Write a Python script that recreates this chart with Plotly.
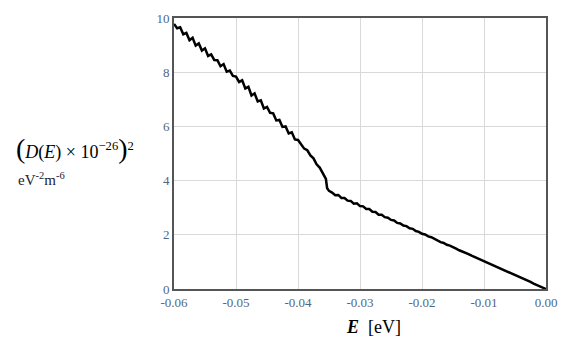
import plotly.graph_objects as go

# Energy values E [eV]
energy = [
    -0.0600, -0.0595, -0.0590, -0.0585, -0.0580, -0.0575, -0.0570, -0.0565, -0.0560, -0.0555,
    -0.0550, -0.0545, -0.0540, -0.0535, -0.0530, -0.0525, -0.0520, -0.0515, -0.0510, -0.0505,
    -0.0500, -0.0495, -0.0490, -0.0485, -0.0480, -0.0475, -0.0470, -0.0465, -0.0460, -0.0455,
    -0.0450, -0.0445, -0.0440, -0.0435, -0.0430, -0.0425, -0.0420, -0.0415, -0.0410, -0.0405,
    -0.0400, -0.0395, -0.0390, -0.0385, -0.0380, -0.0375, -0.0370, -0.0365, -0.0360, -0.0355,
    -0.0353, -0.0350, -0.0345, -0.0340, -0.0335, -0.0330, -0.0325, -0.0320, -0.0315, -0.0310,
    -0.0305, -0.0300, -0.0295, -0.0290, -0.0285, -0.0280, -0.0275, -0.0270, -0.0265, -0.0260,
    -0.0255, -0.0250, -0.0245, -0.0240, -0.0235, -0.0230, -0.0225, -0.0220, -0.0215, -0.0210,
    -0.0205, -0.0200, -0.0195, -0.0190, -0.0185, -0.0180, -0.0175, -0.0170, -0.0165, -0.0160,
    -0.0155, -0.0150, -0.0145, -0.0140, -0.0135, -0.0130, -0.0125, -0.0120, -0.0115, -0.0110,
    -0.0105, -0.0100, -0.0095, -0.0090, -0.0085, -0.0080, -0.0075, -0.0070, -0.0065, -0.0060,
    -0.0055, -0.0050, -0.0045, -0.0040, -0.0035, -0.0030, -0.0025, -0.0020, -0.0015, -0.0010,
    -0.0005, 0.0000,
]

# (D(E) x 1e-26)^2 values
d_squared = [
    9.78, 9.62, 9.66, 9.40, 9.45, 9.18, 9.27, 8.98, 9.06, 8.80,
    8.88, 8.60, 8.66, 8.45, 8.44, 8.22, 8.30, 8.02, 8.06, 7.86,
    7.84, 7.64, 7.70, 7.40, 7.46, 7.14, 7.22, 6.92, 6.96, 6.66,
    6.72, 6.50, 6.48, 6.22, 6.24, 5.98, 6.00, 5.74, 5.78, 5.52,
    5.50, 5.36, 5.18, 5.12, 4.93, 4.82, 4.60, 4.48, 4.28, 4.06,
    3.72, 3.62, 3.56, 3.46, 3.47, 3.36, 3.36, 3.26, 3.25, 3.15,
    3.16, 3.06, 3.05, 2.95, 2.95, 2.85, 2.84, 2.74, 2.74, 2.65,
    2.63, 2.55, 2.53, 2.44, 2.42, 2.34, 2.32, 2.24, 2.22, 2.14,
    2.11, 2.04, 2.01, 1.94, 1.91, 1.84, 1.80, 1.73, 1.70, 1.63,
    1.60, 1.53, 1.49, 1.43, 1.39, 1.33, 1.29, 1.23, 1.18, 1.13,
    1.08, 1.02, 0.98, 0.92, 0.87, 0.82, 0.77, 0.72, 0.67, 0.61,
    0.56, 0.51, 0.46, 0.41, 0.36, 0.31, 0.26, 0.20, 0.15, 0.10,
    0.05, 0.00,
]

x_ticks = [-0.06, -0.05, -0.04, -0.03, -0.02, -0.01, 0.0]
x_tick_labels = ["-0.06", "-0.05", "-0.04", "-0.03", "-0.02", "-0.01", "0.00"]
y_ticks = [0, 2, 4, 6, 8, 10]
y_tick_labels = ["0", "2", "4", "6", "8", "10"]

SERIF = "Liberation Serif"
TICK_COLOR = "#506784"

fig = go.Figure()
fig.add_trace(go.Scatter(
    x=energy, y=d_squared, mode="lines",
    line=dict(color="black", width=2.5),
    showlegend=False, hoverinfo="skip",
))

axis_common = dict(
    showgrid=True, gridcolor="#d9d9d9", gridwidth=1,
    showline=True, linecolor="#555555", linewidth=2, mirror=True,
    zeroline=False, ticks="", automargin=False,
    tickfont=dict(family=SERIF, size=13, color=TICK_COLOR),
)

fig.update_layout(
    width=562, height=341,
    margin=dict(l=174, r=16, t=18, b=52),
    paper_bgcolor="white", plot_bgcolor="white",
    font=dict(family=SERIF, size=13, color="black"),
    xaxis=dict(range=[-0.06, 0.0], tickvals=x_ticks, ticktext=x_tick_labels, **axis_common),
    yaxis=dict(range=[0, 10], tickvals=y_ticks, ticktext=y_tick_labels, **axis_common),
    annotations=[
        dict(
            text="<i><b>E</b></i>  [eV]",
            xref="paper", yref="paper", x=0.535, y=-0.14,
            xanchor="center", yanchor="middle", showarrow=False,
            font=dict(family=SERIF, size=18, color="black"),
        ),
        dict(
            text=("<span style='font-size:28px'>(</span><i>D</i>(<i>E</i>) × 10<sup>−26</sup>"
                  "<span style='font-size:28px'>)</span><sup>2</sup>"),
            xref="paper", yref="paper", x=-0.43, y=0.52,
            xanchor="left", yanchor="middle", showarrow=False,
            font=dict(family=SERIF, size=18, color="black"),
        ),
        dict(
            text="eV<sup>-2</sup>m<sup>-6</sup>",
            xref="paper", yref="paper", x=-0.425, y=0.405,
            xanchor="left", yanchor="middle", showarrow=False,
            font=dict(family=SERIF, size=15, color="#1a1a33"),
        ),
    ],
)

fig.write_html("out.html", config={"displayModeBar": False},
               post_script="document.body.style.margin='0';")
